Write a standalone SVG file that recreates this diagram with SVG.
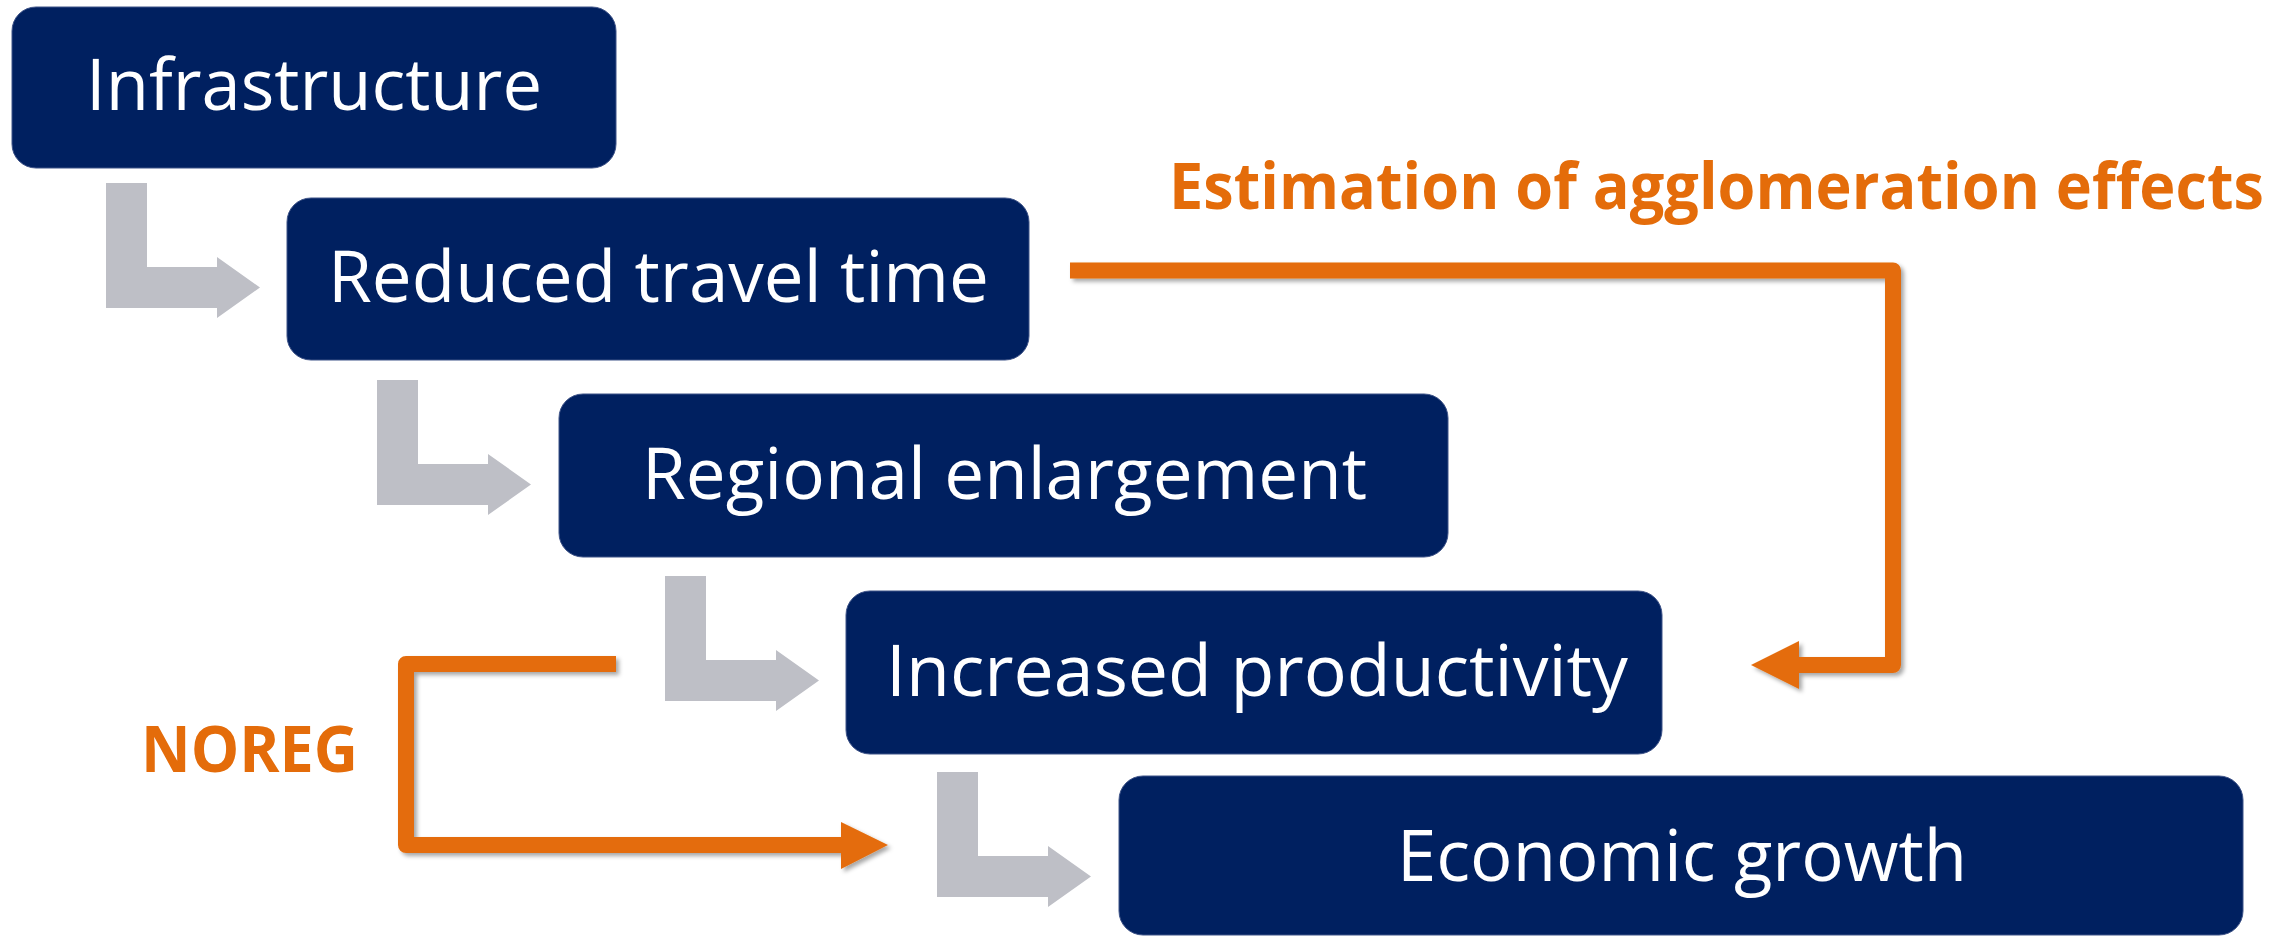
<svg xmlns="http://www.w3.org/2000/svg" width="2295" height="936" viewBox="0 0 2295 936">
  <style>
    .box { fill: #002060; stroke: #3d5287; stroke-width: 1; }
    .label { fill: #ffffff; font-family: "Open Sans", "Noto Sans", sans-serif; font-size: 72px; }
    .note { fill: #E46C0A; font-family: "Open Sans", "Noto Sans", sans-serif; font-size: 64px; font-weight: bold; }
    .step { fill: #BEBFC6; }
    .feedback { fill: none; stroke: #E46C0A; stroke-width: 16; stroke-linejoin: round; }
    .head { fill: #E46C0A; }
  </style>
  <defs>
    <!-- bent block arrow between consecutive stages -->
    <path id="bent" d="M0,0 H41 V84 H111 V74 L154,104.5 L111,135 V125 H0 Z"/>
    <filter id="shadow" x="-5%" y="-5%" width="110%" height="110%">
      <feDropShadow dx="3" dy="3" stdDeviation="2" flood-color="#000000" flood-opacity="0.35"/>
    </filter>
  </defs>

  <!-- stage connectors -->
  <g id="connectors">
    <use href="#bent" class="step" transform="translate(106,183)"/>
    <use href="#bent" class="step" transform="translate(377,380)"/>
    <use href="#bent" class="step" transform="translate(665,576)"/>
    <use href="#bent" class="step" transform="translate(937,772)"/>

    <g id="agglomeration-loop" filter="url(#shadow)">
      <path class="feedback" d="M1070,270.5 H1893 V665 H1795"/>
      <polygon class="head" points="1799,641 1799,689 1751,665"/>
    </g>
    <g id="noreg-loop" filter="url(#shadow)">
      <path class="feedback" d="M616,664 H406 V845 H845"/>
      <polygon class="head" points="841,822 841,869 888,845"/>
    </g>
  </g>

  <g id="infrastructure">
    <rect class="box" x="12" y="7" width="604" height="161" rx="24"/>
    <text class="label" x="86" y="110" textLength="456" lengthAdjust="spacingAndGlyphs">Infrastructure</text>
  </g>
  <g id="reduced-travel-time">
    <rect class="box" x="287" y="198" width="742" height="162" rx="24"/>
    <text class="label" x="328" y="302" textLength="661" lengthAdjust="spacingAndGlyphs">Reduced travel time</text>
  </g>
  <g id="regional-enlargement">
    <rect class="box" x="559" y="394" width="889" height="163" rx="24"/>
    <text class="label" x="642" y="499" textLength="725" lengthAdjust="spacingAndGlyphs">Regional enlargement</text>
  </g>
  <g id="increased-productivity">
    <rect class="box" x="846" y="591" width="816" height="163" rx="24"/>
    <text class="label" x="886" y="696" textLength="742" lengthAdjust="spacingAndGlyphs">Increased productivity</text>
  </g>
  <g id="economic-growth">
    <rect class="box" x="1119" y="776" width="1124" height="159" rx="24"/>
    <text class="label" x="1397" y="881" textLength="570" lengthAdjust="spacingAndGlyphs">Economic growth</text>
  </g>

  <g id="labels">
    <text class="note" x="1169" y="209" textLength="1095" lengthAdjust="spacingAndGlyphs">Estimation of agglomeration effects</text>
    <text class="note" x="141" y="772" textLength="217" lengthAdjust="spacingAndGlyphs">NOREG</text>
  </g>
</svg>
